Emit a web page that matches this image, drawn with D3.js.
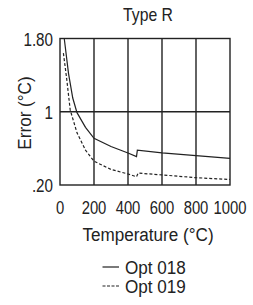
<!DOCTYPE html>
<html>
<head>
<meta charset="utf-8">
<script src="https://cdn.jsdelivr.net/npm/d3@7"></script>
<style>
  body { margin: 0; background: #fff; }
  svg text { font-family: "Liberation Sans", Arial, sans-serif; fill: #222; }
</style>
</head>
<body>
<svg id="chart" width="253" height="305"></svg>
<script>
const xTicks = [0, 200, 400, 600, 800, 1000];
const yTicks = [0.2, 1, 1.8];
const yTickLabels = ['.20', '1', '1.80'];

const temps018 = [25, 50, 75, 100, 150, 200, 300, 400, 450, 455, 600, 800, 1000];
const opt018 = [1.80, 1.42, 1.15, 0.99, 0.83, 0.71, 0.62, 0.55, 0.51, 0.58, 0.55, 0.52, 0.49];
const temps019 = [20, 40, 60, 100, 150, 200, 300, 400, 450, 460, 600, 800, 1000];
const opt019 = [1.64, 1.35, 1.02, 0.77, 0.58, 0.46, 0.37, 0.32, 0.29, 0.33, 0.31, 0.28, 0.26];

const svg = d3.select('#chart');
const margin = { left: 60, top: 38.5, right: 23, bottom: 120 };
const width = 253 - margin.left - margin.right;
const height = 305 - margin.top - margin.bottom;
const ink = '#222';
const fontSize = 19;

const x = d3.scaleLinear().domain([0, 1000]).range([0, width]);
const y = d3.scaleLinear().domain([0.2, 1.8]).range([height, 0]);

// condensed look: squeeze Liberation Sans horizontally
function label(parent, tx, ty, txt, anchor, sx, rotate) {
  const t = parent.append('g')
    .attr('transform', `translate(${tx},${ty})${rotate ? ' rotate(-90)' : ''} scale(${sx},1)`)
    .append('text')
    .attr('text-anchor', anchor)
    .attr('font-size', fontSize)
    .text(txt);
  return t;
}

const g = svg.append('g').attr('transform', `translate(${margin.left},${margin.top})`);

// grid
g.selectAll('.vgrid').data(xTicks.slice(1, -1)).enter().append('line')
  .attr('x1', d => x(d)).attr('x2', d => x(d))
  .attr('y1', 0).attr('y2', height)
  .attr('stroke', ink).attr('stroke-width', 1.4);
g.append('line')
  .attr('x1', 0).attr('x2', width)
  .attr('y1', y(1)).attr('y2', y(1))
  .attr('stroke', ink).attr('stroke-width', 1.4);
g.append('rect')
  .attr('width', width).attr('height', height)
  .attr('fill', 'none').attr('stroke', ink).attr('stroke-width', 1.4);

// curves
const line = d3.line().x(d => x(d[0])).y(d => y(d[1]));
g.append('path')
  .datum(d3.zip(temps018, opt018))
  .attr('d', line)
  .attr('fill', 'none').attr('stroke', ink).attr('stroke-width', 1.2);
g.append('path')
  .datum(d3.zip(temps019, opt019))
  .attr('d', line)
  .attr('fill', 'none').attr('stroke', ink).attr('stroke-width', 1.2)
  .attr('stroke-dasharray', '3,2');

// tick labels
xTicks.forEach(d => label(g, x(d), height + 29, d, 'middle', 0.78));
yTicks.forEach((d, i) => label(g, -7, y(d) + 7, yTickLabels[i], 'end', 0.8));

label(svg, 148, 21, 'Type R', 'middle', 0.83);
label(svg, 31, 113, 'Error (°C)', 'middle', 0.9, true);
label(svg, 148, 241, 'Temperature (°C)', 'middle', 0.9);

// legend
const legend = svg.append('g');
const items = [{ name: 'Opt 018', dash: null }, { name: 'Opt 019', dash: '3,1.5' }];
items.forEach((it, i) => {
  const ly = 267 + i * 19;
  legend.append('line')
    .attr('x1', 102.5).attr('x2', 119).attr('y1', ly).attr('y2', ly)
    .attr('stroke', ink).attr('stroke-width', 1.2)
    .attr('stroke-dasharray', it.dash);
  label(legend, 125, ly + 6.5, it.name, 'start', 0.9);
});
</script>
</body>
</html>
